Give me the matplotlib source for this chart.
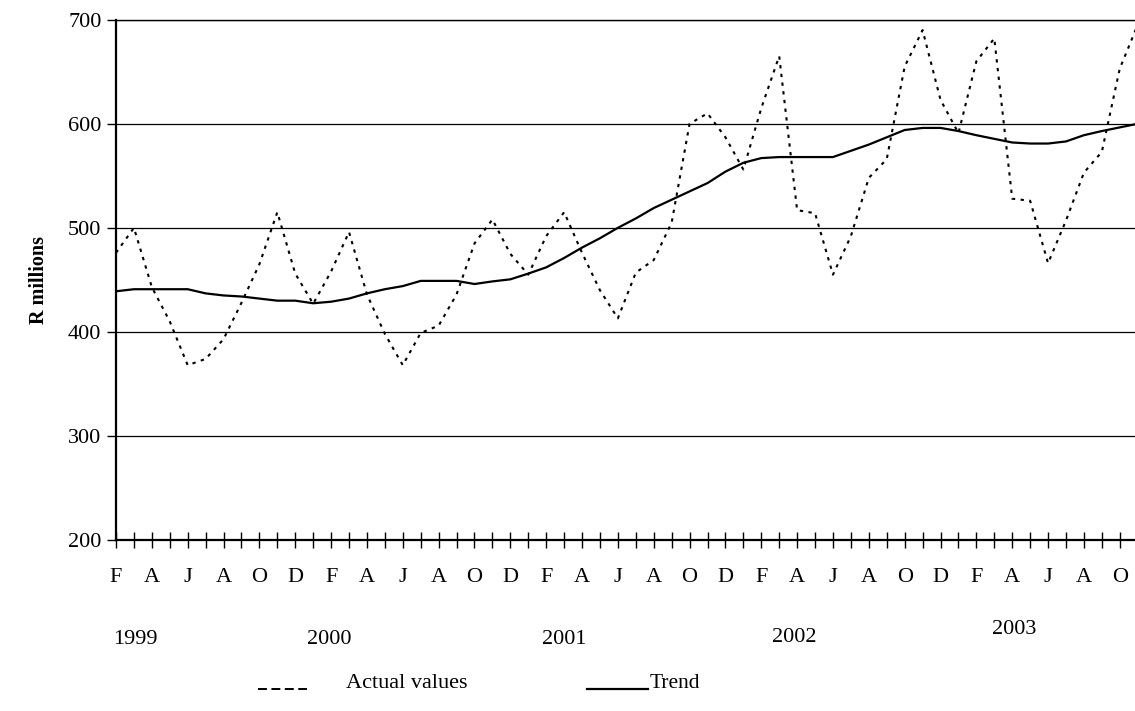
import numpy as np
import matplotlib.pyplot as plt
from matplotlib.lines import Line2D

plt.rcParams['font.family'] = ['Liberation Serif', 'DejaVu Serif']

# ==========================================================
#  data (monthly, starting Feb 1999)
# ==========================================================
actual = [476, 500, 443, 410, 368, 374, 393, 428, 465, 515,
          456, 427, 458, 496, 436, 398, 368, 399, 406, 436,
          485, 508, 475, 455, 492, 515, 476, 440, 413, 457,
          469, 505, 600, 610, 587, 556, 615, 665, 517, 514,
          455, 492, 548, 566, 655, 690, 623, 591, 660, 682,
          528, 526, 466, 507, 553, 573, 653, 695]

trend = [439, 441, 441, 441, 441, 437, 435, 434, 432, 430,
         430, 427.5, 429, 432, 437, 441, 444, 449, 449, 449,
         446, 448.5, 450.5, 456, 462, 471, 481, 490, 500, 509,
         519, 527, 535, 543, 554, 562.5, 567, 568, 568, 568,
         568, 574, 580, 587, 594, 596, 596, 593, 589, 585.5,
         582, 581, 581, 583, 589, 593, 596.5, 600]

month_labels = ["F", "A", "J", "A", "O", "D",
                "F", "A", "J", "A", "O", "D",
                "F", "A", "J", "A", "O", "D",
                "F", "A", "J", "A", "O", "D",
                "F", "A", "J", "A", "O"]

year_labels = ["1999", "2000", "2001", "2002", "2003"]
year_x = [1.1, 11.9, 25.0, 37.8, 50.1]       # month index of label centre
year_y = [640, 640, 640, 637, 630]           # pixel row in figure

y_ticks = [200, 300, 400, 500, 600, 700]

# ==========================================================
#  figure
# ==========================================================
W, H = 1135, 711
fig = plt.figure(figsize=(W / 100, H / 100), dpi=100)
ax = fig.add_axes([116 / W, 1 - 540 / H, 1 - 116 / W, (540 - 19.7) / H])

x = np.arange(len(actual))
ax.plot(x, actual, color="black", lw=1.5, dashes=(1.6, 2.6), solid_capstyle="butt")
ax.plot(x, trend, color="black", lw=1.6)

ax.set_xlim(0, 56.85)
ax.set_ylim(200, 700)
ax.set_yticks(y_ticks)
ax.yaxis.grid(True, color="black", lw=0.9)
ax.set_axisbelow(True)

for s in ["left", "bottom"]:
    ax.spines[s].set_linewidth(1.6)
ax.spines["top"].set_linewidth(1.0)
ax.spines["right"].set_visible(False)

n_ticks = 57
xt_labels = [month_labels[i // 2] if i % 2 == 0 else "" for i in range(n_ticks)]
ax.set_xticks(np.arange(n_ticks))
ax.set_xticklabels(xt_labels)
ax.tick_params(axis="x", direction="inout", length=11, width=1, labelsize=16, pad=15)
ax.tick_params(axis="y", direction="out", length=6.5, width=1, labelsize=16, pad=4)

ax.set_ylabel("R millions", fontsize=14.5, fontweight="bold")
ax.yaxis.set_label_coords((49 - 116) / (W - 116), 0.5)

# year labels under the month letters
for lab, xi, yp in zip(year_labels, year_x, year_y):
    xp = 116 + xi * 17.93
    fig.text(xp / W, 1 - yp / H, lab, ha="center", va="center", fontsize=16)

# legend drawn underneath
fig.add_artist(Line2D([258 / W, 307 / W], [1 - 689 / H] * 2, color="black",
                      lw=1.4, dashes=(4.6, 2.3)))
fig.text(346 / W, 1 - 683 / H, "Actual values", ha="left", va="center", fontsize=16)
fig.add_artist(Line2D([587 / W, 648 / W], [1 - 689 / H] * 2, color="black", lw=1.6))
fig.text(650 / W, 1 - 683 / H, "Trend", ha="left", va="center", fontsize=15.5)

fig.savefig("out.png", dpi=100)
